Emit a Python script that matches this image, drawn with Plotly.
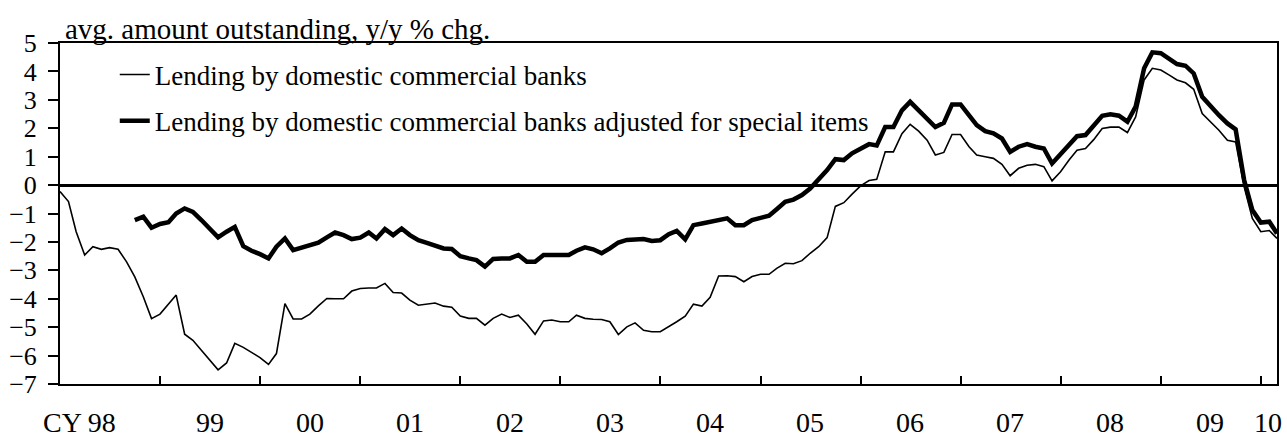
import pandas as pd
import plotly.graph_objects as go

# monthly, Jan 1998 - Mar 2010, y/y % chg.
months = pd.date_range("1998-01-01", periods=147, freq="MS")

lending = [
    -0.23, -0.58, -1.64, -2.46, -2.17, -2.26, -2.20, -2.26, -2.70, -3.23, -3.93, -4.70,
    -4.54, -4.20, -3.87, -5.25, -5.46, -5.81, -6.16, -6.50, -6.26, -5.57, -5.71, -5.90,
    -6.07, -6.31, -5.93, -4.17, -4.71, -4.71, -4.54, -4.25, -3.99, -4.00, -4.00, -3.73,
    -3.64, -3.62, -3.62, -3.46, -3.78, -3.80, -4.05, -4.23, -4.20, -4.15, -4.26, -4.30,
    -4.61, -4.69, -4.69, -4.93, -4.69, -4.54, -4.66, -4.58, -4.89, -5.25, -4.78, -4.75,
    -4.81, -4.81, -4.58, -4.69, -4.72, -4.73, -4.81, -5.26, -4.99, -4.85, -5.11, -5.16,
    -5.16, -4.99, -4.81, -4.61, -4.19, -4.26, -3.95, -3.20, -3.19, -3.22, -3.40, -3.22,
    -3.14, -3.14, -2.93, -2.75, -2.77, -2.66, -2.40, -2.17, -1.85, -0.75, -0.62, -0.32,
    -0.03, 0.16, 0.20, 1.17, 1.17, 1.81, 2.14, 1.90, 1.58, 1.06, 1.15, 1.78,
    1.78, 1.35, 1.06, 1.00, 0.94, 0.73, 0.33, 0.59, 0.70, 0.73, 0.65, 0.15,
    0.47, 0.88, 1.23, 1.29, 1.60, 1.99, 2.04, 2.04, 1.85, 2.40, 3.70, 4.11,
    4.05, 3.87, 3.70, 3.60, 3.37, 2.52, 2.23, 1.93, 1.58, 1.52, -0.05, -1.17,
    -1.64, -1.60, -1.88,
]

# adjusted series starts Oct 1998
lending_adj = [None] * 9 + [
    -1.23, -1.11, -1.50,
    -1.37, -1.31, -1.00, -0.82, -0.94, -1.23, -1.53, -1.84, -1.64, -1.47, -2.15, -2.31,
    -2.43, -2.58, -2.17, -1.88, -2.29, -2.19, -2.12, -2.03, -1.84, -1.67, -1.76, -1.90,
    -1.85, -1.67, -1.88, -1.55, -1.76, -1.53, -1.76, -1.94, -2.03, -2.13, -2.23, -2.25,
    -2.50, -2.58, -2.64, -2.87, -2.60, -2.58, -2.58, -2.46, -2.70, -2.70, -2.46, -2.46,
    -2.46, -2.46, -2.31, -2.19, -2.26, -2.40, -2.23, -2.02, -1.93, -1.90, -1.90, -1.97,
    -1.94, -1.73, -1.61, -1.91, -1.41, -1.35, -1.29, -1.21, -1.17, -1.41, -1.41, -1.23,
    -1.14, -1.08, -0.85, -0.59, -0.51, -0.35, -0.12, 0.18, 0.53, 0.91, 0.88, 1.12,
    1.29, 1.44, 1.39, 2.04, 2.04, 2.63, 2.93, 2.63, 2.35, 2.04, 2.19, 2.84,
    2.84, 2.46, 2.11, 1.90, 1.82, 1.64, 1.17, 1.35, 1.44, 1.35, 1.29, 0.76,
    1.09, 1.44, 1.72, 1.76, 2.09, 2.44, 2.49, 2.44, 2.23, 2.76, 4.11, 4.67,
    4.64, 4.46, 4.26, 4.20, 3.93, 3.11, 2.76, 2.46, 2.17, 1.96, 0.18, -0.88,
    -1.32, -1.29, -1.70,
]

year_labels = ["CY 98", "99", "00", "01", "02", "03", "04", "05", "06", "07", "08", "09", "10"]
label_pos = ["1998-07-01", "1999-07-01", "2000-07-01", "2001-07-01", "2002-07-01",
             "2003-07-01", "2004-07-01", "2005-07-01", "2006-07-01", "2007-07-01",
             "2008-07-01", "2009-07-01", "2010-01-28"]
year_ticks = [f"{y}-01-01" for y in range(1999, 2011)]

FONT = "Liberation Serif"

fig = go.Figure()
fig.add_trace(go.Scatter(
    x=months, y=lending, mode="lines",
    name="Lending by domestic commercial banks",
    line=dict(color="black", width=1.6),
    legendgroup="a",
))
fig.add_trace(go.Scatter(
    x=months, y=lending_adj, mode="lines",
    name="Lending by domestic commercial banks adjusted for special items",
    line=dict(color="black", width=4.5),
    legendgroup="b",
))

# x labels sit in the middle of each year (ticks mark the year boundaries)
for lab, pos in zip(year_labels, label_pos):
    a = dict(text=lab, xref="x", yref="paper", x=pos, y=0, yanchor="bottom",
             yshift=-56, showarrow=False, font=dict(size=28, color="black"))
    if lab.startswith("CY"):
        a["xanchor"] = "right"
        a["xshift"] = 8
    fig.add_annotation(**a)

fig.add_annotation(
    text="avg. amount outstanding, y/y % chg.",
    xref="paper", yref="paper", x=0, y=1, xanchor="left", yanchor="bottom",
    xshift=3, yshift=-4, showarrow=False, font=dict(size=29, color="black"),
)

fig.update_layout(
    width=1287, height=439,
    margin=dict(l=60, r=10, t=43, b=55),
    paper_bgcolor="white", plot_bgcolor="white",
    font=dict(family=FONT, size=26, color="black"),
    showlegend=True,
    legend=dict(x=0.045, y=0.978, xanchor="left", yanchor="top",
                bgcolor="rgba(0,0,0,0)", font=dict(size=27),
                traceorder="grouped", tracegroupgap=8),
)
fig.update_xaxes(
    range=["1998-01-01", "2010-03-01"],
    tickvals=year_ticks, showticklabels=False,
    ticks="inside", ticklen=8, tickwidth=2, tickcolor="black",
    showgrid=False, zeroline=False, automargin=False,
    showline=True, linecolor="black", linewidth=2, mirror=True,
)
fig.update_yaxes(
    range=[-7, 5], tickvals=list(range(-7, 6)),
    ticks="outside", ticklen=10, tickwidth=2, tickcolor="black",
    tickfont=dict(size=26), ticklabelstandoff=6, automargin=False,
    showgrid=False, zeroline=True, zerolinecolor="black", zerolinewidth=3,
    showline=True, linecolor="black", linewidth=2, mirror=True,
)

# drop the browser's default 8px body margin so the figure fills the window
fig.write_html("out.html", config={"displayModeBar": False},
               post_script="document.body.style.margin = '0';")
